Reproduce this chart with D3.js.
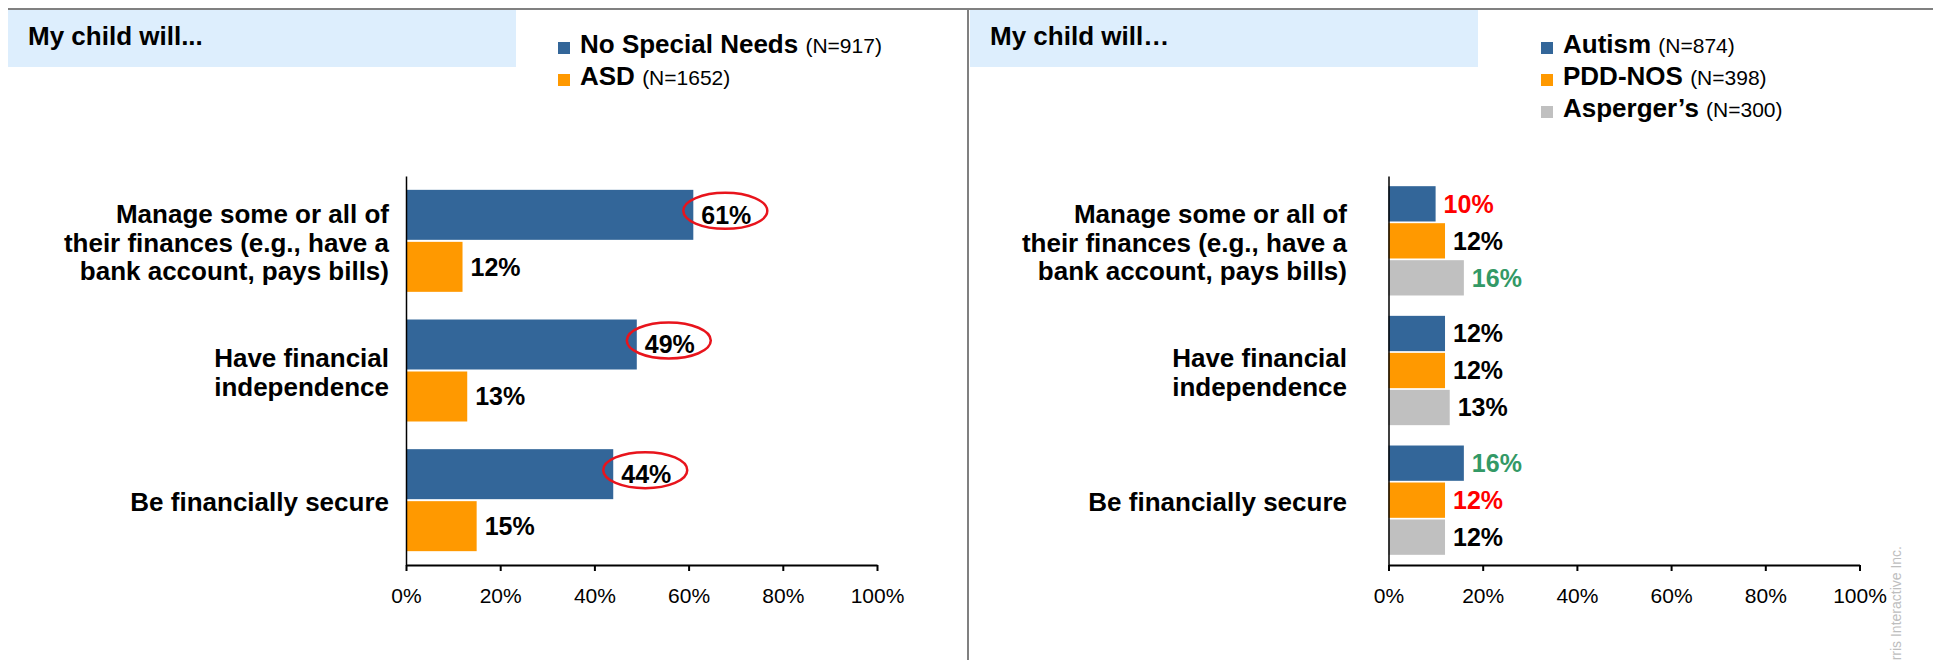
<!DOCTYPE html>
<html>
<head>
<meta charset="utf-8">
<script src="https://cdn.jsdelivr.net/npm/d3@7"></script>
<style>
  html, body { margin: 0; padding: 0; background: #fff; }
  svg { display: block; }
  text { font-family: "Liberation Sans", Arial, Helvetica, sans-serif; }
</style>
</head>
<body>
<svg id="chart" width="1933" height="660"></svg>
<script>
// ---- data ----
const categories = [
  ["Manage some or all of", "their finances (e.g., have a", "bank account, pays bills)"],
  ["Have financial", "independence"],
  ["Be financially secure"]
];
const leftTitle = "My child will...";
const rightTitle = "My child will\u2026";

const leftSeries = ["No Special Needs", "ASD"];
const leftN = ["(N=917)", "(N=1652)"];
// per category: [No Special Needs, ASD]
const leftValues = [[61, 12], [49, 13], [44, 15]];
// series whose value labels are ringed
const leftRinged = [true, false];

const rightSeries = ["Autism", "PDD-NOS", "Asperger\u2019s"];
const rightN = ["(N=874)", "(N=398)", "(N=300)"];
// per category: [Autism, PDD-NOS, Asperger's]
const rightValues = [[10, 12, 16], [12, 12, 13], [16, 12, 12]];
// per-label emphasis: "low", "high" or none
const rightEmphasis = [["low", "", "high"], ["", "", ""], ["high", "low", ""]];

const tickValues = [0, 20, 40, 60, 80, 100];
const watermark = "\u00A9 Harris Interactive Inc.";

// ---- styles ----
const seriesColors = ["#336699", "#FF9900", "#C0C0C0"];
const emphasisColors = { low: "#FF0000", high: "#339966", "": "#000000" };

const svg = d3.select("#chart");

// frame: top rule and panel divider
svg.append("line").attr("x1", 8).attr("x2", 1933).attr("y1", 9).attr("y2", 9)
  .attr("stroke", "#808080").attr("stroke-width", 2);
svg.append("line").attr("x1", 968).attr("x2", 968).attr("y1", 9).attr("y2", 660)
  .attr("stroke", "#808080").attr("stroke-width", 2);

function drawPanel(cfg) {
  const g = svg.append("g");

  // title box
  g.append("rect").attr("x", cfg.boxX).attr("y", 10).attr("width", cfg.boxW).attr("height", 57)
    .attr("fill", "#DDEEFD");
  g.append("text").attr("x", cfg.boxX + 20).attr("y", 45)
    .attr("font-size", 26).attr("font-weight", "bold").attr("fill", "#000")
    .text(cfg.title);

  // legend
  const leg = g.append("g");
  cfg.series.forEach((s, i) => {
    const baseY = 53 + i * 32;
    leg.append("rect").attr("x", cfg.legX).attr("y", baseY - 11).attr("width", 12).attr("height", 12)
      .attr("fill", seriesColors[i]);
    const t = leg.append("text").attr("x", cfg.legX + 22).attr("y", baseY).attr("fill", "#000");
    t.append("tspan").attr("font-size", 26).attr("font-weight", "bold").text(s + " ");
    t.append("tspan").attr("font-size", 21).text(cfg.n[i]);
  });

  // scales
  const x = d3.scaleLinear().domain([0, 100]).range([cfg.x0, cfg.x1]);
  const y = d3.scaleBand().domain(d3.range(categories.length)).range([176, 565])
    .paddingInner(cfg.pad).paddingOuter(cfg.pad / 2);
  const ys = d3.scaleBand().domain(d3.range(cfg.series.length)).range([0, y.bandwidth()])
    .paddingInner(cfg.subPad);

  // bars and value labels
  cfg.values.forEach((row, ci) => {
    const grp = g.append("g").attr("transform", `translate(0,${y(ci)})`);
    row.forEach((v, si) => {
      const by = ys(si);
      const bh = ys.bandwidth();
      grp.append("rect")
        .attr("x", x(0)).attr("y", by)
        .attr("width", x(v) - x(0)).attr("height", bh)
        .attr("fill", seriesColors[si]);
      grp.append("text")
        .attr("x", x(v) + 8).attr("y", by + bh / 2).attr("dy", "0.35em")
        .attr("font-size", 25).attr("font-weight", "bold")
        .attr("fill", cfg.labelColor(ci, si))
        .text(v + "%");
      if (cfg.ringed && cfg.ringed[si]) {
        grp.append("ellipse")
          .attr("cx", x(v) + 32).attr("cy", by + bh / 2 - 4)
          .attr("rx", 42).attr("ry", 18)
          .attr("fill", "none").attr("stroke", "#E8141C").attr("stroke-width", 2.5);
      }
    });
  });

  // category labels
  categories.forEach((lines, ci) => {
    const cy = y(ci) + y.bandwidth() / 2 + 2;
    const lh = 28.5;
    const t = g.append("text").attr("text-anchor", "end")
      .attr("font-size", 26).attr("font-weight", "bold").attr("fill", "#000");
    lines.forEach((ln, li) => {
      t.append("tspan").attr("x", cfg.labelX)
        .attr("y", cy - (lines.length - 1) / 2 * lh + li * lh).attr("dy", "0.35em")
        .text(ln);
    });
  });

  // axes
  const yAxis = g.append("g").attr("transform", `translate(${x(0)},0)`)
    .call(d3.axisLeft(y).tickSize(0).tickSizeOuter(0).tickFormat(""));
  yAxis.select(".domain").attr("stroke", "#000").attr("stroke-width", 1.5);

  const xAxis = g.append("g").attr("transform", "translate(0,565)")
    .call(d3.axisBottom(x).tickValues(tickValues).tickSize(6).tickSizeOuter(0)
      .tickPadding(17).tickFormat(d => d + "%"));
  xAxis.select(".domain").attr("stroke", "#000").attr("stroke-width", 2);
  xAxis.selectAll(".tick line").attr("stroke", "#000").attr("stroke-width", 2);
  xAxis.selectAll(".tick text").attr("font-size", 21).attr("fill", "#000")
    .attr("font-family", "\"Liberation Sans\", Arial, Helvetica, sans-serif");
}

drawPanel({
  title: leftTitle, boxX: 8, boxW: 508,
  legX: 558, series: leftSeries, n: leftN,
  x0: 406, x1: 877, pad: 0.2134, subPad: 0.0385,
  values: leftValues, ringed: leftRinged,
  labelX: 389,
  labelColor: () => "#000"
});

drawPanel({
  title: rightTitle, boxX: 970, boxW: 508,
  legX: 1541, series: rightSeries, n: rightN,
  x0: 1388.5, x1: 1859.5, pad: 0.157, subPad: 0.046,
  values: rightValues, ringed: null,
  labelX: 1347,
  labelColor: (ci, si) => emphasisColors[rightEmphasis[ci][si]]
});

// copyright line along the right edge
svg.append("text")
  .attr("transform", "translate(1901,546) rotate(-90)")
  .attr("text-anchor", "end")
  .attr("font-size", 14).attr("fill", "#BEBEBE")
  .text(watermark);
</script>
</body>
</html>
